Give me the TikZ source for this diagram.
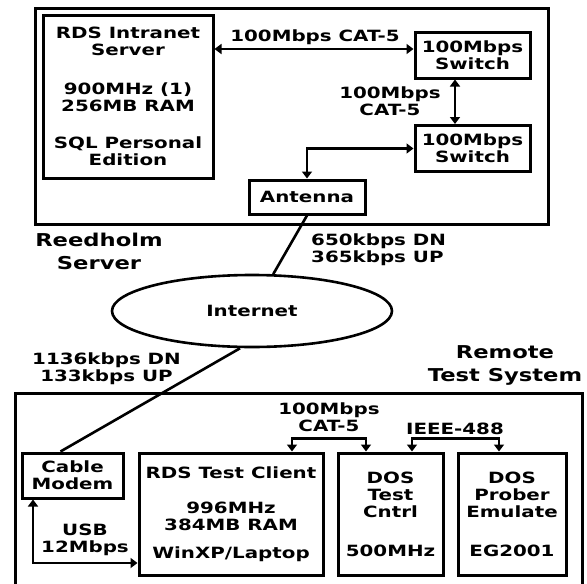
\documentclass[tikz,border=0pt]{standalone}
\usepackage{fontspec}
\setmainfont{DejaVu Sans}[FakeStretch=1.28]
\usetikzlibrary{arrows.meta,shapes.geometric}

\tikzset{
  unit/.style={draw, line width=3pt, inner sep=0pt, align=center},
  frame/.style={line width=3pt},
  link/.style={line width=2.6pt, {Triangle[width=10pt,length=7pt]}-{Triangle[width=10pt,length=7pt]}},
  wire/.style={line width=2.6pt},
  tag/.style={inner sep=0pt, align=center},
  group/.style={tag, font=\bfseries\fontsize{17.7}{23}\selectfont},
}

\begin{document}
\begin{tikzpicture}[x=1pt, y=-1pt, font=\bfseries\fontsize{15.5}{17}\selectfont]
  \clip (0,0) rectangle (587,584);
  % Reedholm side
  \draw[frame] (35,8) rectangle (548,224);
  \node[unit, minimum width=170pt, minimum height=163pt] (server) at (128,96.5)
    {RDS Intranet\\Server\\[22pt]900MHz (1)\\256MB RAM\\[20pt]SQL Personal\\Edition};
  \node[unit, minimum width=115pt, minimum height=46pt] (switchA) at (472.5,55) {100Mbps\\Switch};
  \node[unit, minimum width=115pt, minimum height=46pt] (switchB) at (472.5,148.5) {100Mbps\\Switch};
  \node[unit, minimum width=116pt, minimum height=34pt] (antenna) at (307,197) {Antenna};
  \node[group] (reedholm) at (99,251) {Reedholm\\Server};

  \coordinate (lan) at ([yshift=6pt]switchA.west);
  \draw[link] (lan -| server.east) -- (lan);
  \node[tag] (lanrate) at (315,37) {100Mbps CAT-5};
  \draw[link] ([xshift=-17.5pt]switchA.south) -- ([xshift=-17.5pt]switchB.north);
  \node[tag] (swrate) at (390,101) {100Mbps\\CAT-5};
  \draw[link] (switchB.west) -| (antenna.north);

  % the internet
  \node[draw, ellipse, line width=2.6pt, minimum width=280pt, minimum height=72pt, inner sep=0pt] (internet) at (252,311) {Internet};
  \draw[wire] (antenna.south) -- (internet);
  \node[tag, align=left, anchor=west] (dsl) at (311,250) {650kbps DN\\365kbps UP};

  % Remote side
  \draw[frame] (15,393) rectangle (582,600);
  \node[group] (remote) at (505,365) {Remote\\Test System};
  \node[unit, minimum width=101pt, minimum height=45pt] (modem) at (72.5,475.5) {Cable\\Modem};
  \node[unit, minimum width=184pt, minimum height=122pt] (client) at (231,514)
    {RDS Test Client\\[18pt]996MHz\\384MB RAM\\[11pt]WinXP/Laptop};
  \node[unit, minimum width=105pt, minimum height=122pt] (cntrl) at (390.5,514) {DOS\\Test\\Cntrl\\[22pt]500MHz};
  \node[unit, minimum width=108pt, minimum height=122pt] (prober) at (512,514) {DOS\\Prober\\Emulate\\[22pt]EG2001};

  \draw[wire] ([xshift=-12pt]internet.south) -- ([xshift=-12pt]modem.north);
  \node[tag] (cablerate) at (106.5,369) {1136kbps DN\\133kbps UP};
  \coordinate (usb) at ([yshift=-49pt]client.west);
  \draw[link] ([xshift=-39.5pt]modem.south) |- (usb);
  \node[tag] (usbrate) at (85,540) {USB\\12Mbps};
  \draw[link] ([xshift=61pt]client.north) -- ++(0,-13) -| ([xshift=-24.5pt]cntrl.north);
  \node[tag] (lanrate2) at (329,417) {100Mbps\\CAT-5};
  \draw[link] ([xshift=21.5pt]cntrl.north) -- ++(0,-13) -| ([xshift=-13pt]prober.north);
  \node[tag] (gpib) at (455,429) {IEEE-488};
\end{tikzpicture}
\end{document}
